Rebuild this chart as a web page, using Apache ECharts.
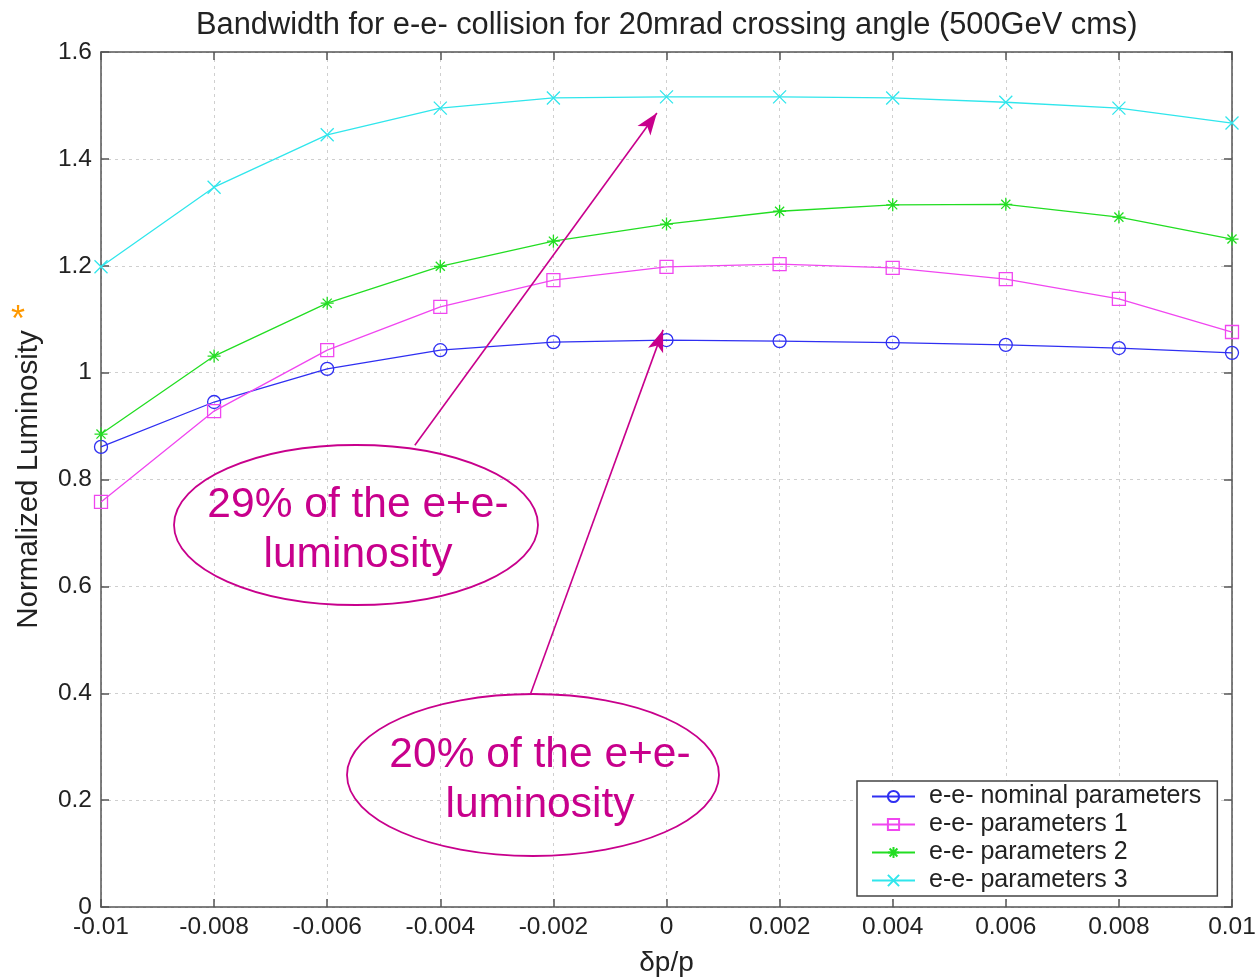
<!DOCTYPE html>
<html>
<head>
<meta charset="utf-8">
<script src="https://cdn.jsdelivr.net/npm/echarts@6/dist/echarts.min.js"></script>
<style>
  html, body { margin: 0; padding: 0; background: #fff; }
  #chart { width: 1255px; height: 979px; }
</style>
</head>
<body>
<div id="chart"></div>
<script>
document.addEventListener('DOMContentLoaded', function() {

    // dp/p positions
    const dpp = [-0.01, -0.008, -0.006, -0.004, -0.002, 0, 0.002, 0.004, 0.006, 0.008, 0.01];

    // normalized luminosity
    const nominal = [0.861, 0.945, 1.007, 1.042, 1.057, 1.061, 1.059, 1.056, 1.052, 1.046, 1.037];
    const params1 = [0.758, 0.928, 1.042, 1.123, 1.173, 1.198, 1.203, 1.196, 1.175, 1.138, 1.076];
    const params2 = [0.885, 1.031, 1.130, 1.199, 1.246, 1.278, 1.302, 1.314, 1.315, 1.291, 1.250];
    const params3 = [1.198, 1.347, 1.445, 1.495, 1.514, 1.516, 1.516, 1.514, 1.506, 1.495, 1.467];

    const seriesNames = ['e-e- nominal parameters', 'e-e- parameters 1', 'e-e- parameters 2', 'e-e- parameters 3'];

    // arrows: [start, tip] in data coords
    const arrow29 = [[-0.00445, 0.864], [-0.00017, 1.486]];
    const arrow20 = [[-0.00240, 0.400], [-0.00006, 1.080]];

    const font = 'Liberation Sans, Arial, Helvetica, sans-serif';
    const pink = '#c8008c';

    const pairs = ys => ys.map((y, i) => [dpp[i], y]);
    const fmt = v => String(parseFloat(Number(v).toFixed(4)));

    const line = (name, ys, color, symbol) => ({
        name: name,
        type: 'line',
        data: pairs(ys),
        symbol: symbol,
        symbolSize: 13,
        showSymbol: true,
        lineStyle: { color: color, width: 1.3 },
        itemStyle: { color: 'rgba(255,255,255,0)', borderColor: color, borderWidth: 1.3 },
        emphasis: { disabled: true },
        animation: false,
        z: 3
    });

    const starPath = 'path://M5,0L5,10M0,5L10,5M1.5,1.5L8.5,8.5M8.5,1.5L1.5,8.5';
    const crossPath = 'path://M0,0L10,10M10,0L0,10';

    const series = [
        line(seriesNames[0], nominal, '#2f2ff2', 'circle'),
        line(seriesNames[1], params1, '#f046f0', 'rect'),
        line(seriesNames[2], params2, '#22dd22', starPath),
        line(seriesNames[3], params3, '#30e6ec', crossPath)
    ];

    series.push({
        name: 'arrows',
        type: 'line',
        data: [],
        silent: true,
        animation: false,
        markLine: {
            silent: true,
            animation: false,
            symbol: ['none', 'arrow'],
            symbolSize: [12, 22],
            label: { show: false },
            lineStyle: { color: pink, width: 1.6, type: 'solid' },
            data: [
                [{ coord: arrow29[0] }, { coord: arrow29[1] }],
                [{ coord: arrow20[0] }, { coord: arrow20[1] }]
            ]
        }
    });

    const gridLine = { show: true, lineStyle: { color: '#cfcfcf', type: [3, 4], width: 1 } };
    const boxLine = { show: true, onZero: false, lineStyle: { color: '#555', width: 1.5 } };
    const tick = { show: true, inside: true, length: 8, lineStyle: { color: '#555', width: 1.5 } };

    const chart = echarts.init(document.getElementById('chart'));
    chart.setOption({
        animation: false,
        backgroundColor: '#fff',
        title: {
            text: 'Bandwidth for e-e- collision for 20mrad crossing angle (500GeV cms)',
            left: 191,
            top: 5,
            textStyle: { fontFamily: font, fontSize: 30.8, fontWeight: 'normal', color: '#222' }
        },
        grid: { left: 101, right: 23, top: 52, bottom: 72, outerBoundsMode: 'none' },
        legend: {
            orient: 'vertical',
            left: 857,
            top: 781,
            data: seriesNames,
            itemWidth: 43,
            itemHeight: 14,
            itemGap: 3,
            padding: [3, 16, 3, 14],
            borderColor: '#444',
            borderWidth: 1.5,
            backgroundColor: '#fff',
            textStyle: { fontFamily: font, fontSize: 25, color: '#222', padding: [0, 0, 0, 9] },
            selectedMode: false
        },
        xAxis: [{
            type: 'value',
            min: -0.01,
            max: 0.01,
            interval: 0.002,
            name: 'δp/p',
            nameLocation: 'middle',
            nameGap: 42,
            nameTextStyle: { fontFamily: font, fontSize: 28, color: '#222' },
            axisLine: boxLine,
            axisTick: tick,
            axisLabel: { fontFamily: font, fontSize: 24.5, color: '#222', margin: 8, formatter: fmt },
            splitLine: gridLine
        }, {
            type: 'value',
            position: 'top',
            min: -0.01,
            max: 0.01,
            interval: 0.002,
            axisLine: boxLine,
            axisTick: tick,
            axisLabel: { show: false },
            splitLine: { show: false }
        }],
        yAxis: [{
            type: 'value',
            min: 0,
            max: 1.6,
            interval: 0.2,
            name: 'Normalized Luminosity',
            nameLocation: 'middle',
            nameGap: 57,
            nameRotate: 90,
            nameTextStyle: { fontFamily: font, fontSize: 29.5, color: '#222' },
            axisLine: boxLine,
            axisTick: tick,
            axisLabel: { fontFamily: font, fontSize: 24.5, color: '#222', margin: 9, formatter: fmt },
            splitLine: gridLine
        }, {
            type: 'value',
            position: 'right',
            min: 0,
            max: 1.6,
            interval: 0.2,
            axisLine: boxLine,
            axisTick: tick,
            axisLabel: { show: false },
            splitLine: { show: false }
        }],
        series: series,
        graphic: [
            {
                type: 'text', left: 11, top: 303, z: 10,
                style: { text: '*', fontFamily: font, fontSize: 36, fill: '#ff9900' }
            },
            {
                type: 'ellipse', z: 10,
                shape: { cx: 356, cy: 525, rx: 182, ry: 80 },
                style: { fill: 'rgba(255,255,255,0)', stroke: pink, lineWidth: 1.8 }
            },
            {
                type: 'text', x: 358, y: 530, z: 10,
                style: {
                    text: '29% of the e+e-\nluminosity', fontFamily: font, fontSize: 42.5,
                    lineHeight: 50, fill: pink, align: 'center', verticalAlign: 'middle'
                }
            },
            {
                type: 'ellipse', z: 10,
                shape: { cx: 533, cy: 775, rx: 186, ry: 81 },
                style: { fill: 'rgba(255,255,255,0)', stroke: pink, lineWidth: 1.8 }
            },
            {
                type: 'text', x: 540, y: 780, z: 10,
                style: {
                    text: '20% of the e+e-\nluminosity', fontFamily: font, fontSize: 42.5,
                    lineHeight: 50, fill: pink, align: 'center', verticalAlign: 'middle'
                }
            }
        ]
    });

});
</script>
</body>
</html>
